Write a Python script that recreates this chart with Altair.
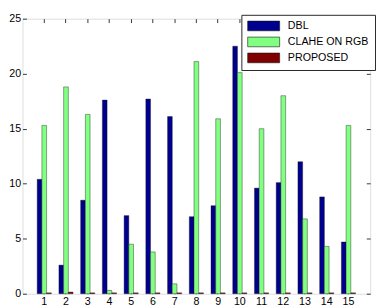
import altair as alt
import pandas as pd

images = [str(i) for i in range(1, 16)]
series = ["DBL", "CLAHE ON RGB", "PROPOSED"]
colors = ["#00008F", "#80FF80", "#800000"]
dbl = [10.4, 2.6, 8.5, 17.6, 7.1, 17.7, 16.1, 7.0, 8.0, 22.5, 9.6, 10.1, 12.0, 8.8, 4.7]
clahe = [15.3, 18.8, 16.3, 0.3, 4.5, 3.8, 0.9, 21.1, 15.9, 20.1, 15.0, 18.0, 6.8, 4.3, 15.3]
proposed = [0.08, 0.15, 0.08, 0.08, 0.08, 0.08, 0.08, 0.08, 0.08, 0.08, 0.08, 0.08, 0.08, 0.08, 0.08]
y_ticks = [0, 5, 10, 15, 20, 25]

rows = []
for vals, s in zip([dbl, clahe, proposed], series):
    for img, v in zip(images, vals):
        rows.append({"img": img, "series": s, "value": v})
df = pd.DataFrame(rows)

FONT = "Liberation Sans"
x_scale = alt.Scale(paddingInner=0.35, paddingOuter=0.675)
y_scale = alt.Scale(domain=[0, 25], nice=False)
xoff = alt.XOffset("series:N", sort=series, scale=alt.Scale(paddingInner=0, paddingOuter=0))
color = alt.Color(
    "series:N", sort=series, scale=alt.Scale(domain=series, range=colors),
    legend=alt.Legend(
        title=None, orient="none", legendX=226, legendY=-4,
        strokeColor="#222", fillColor="white", padding=6,
        symbolType="M -1,-1 H 5.6 V 1 H -1 Z", symbolSize=100,
        symbolStrokeColor="#111", symbolStrokeWidth=0.6, symbolOpacity=1,
        labelOffset=31, rowPadding=3.5, labelFont=FONT, labelFontSize=11,
        labelColor="black",
    ),
)

bars = alt.Chart(df).mark_bar(stroke="#111", strokeWidth=0.4).encode(
    x=alt.X("img:N", sort=images, scale=x_scale, title=None,
            axis=alt.Axis(orient="bottom", labelAngle=0, domain=False, tickSize=4,
                          offset=-4, labelPadding=2, tickColor="#333",
                          labelFont=FONT, labelFontSize=11, labelColor="black")),
    xOffset=xoff,
    y=alt.Y("value:Q", scale=y_scale, title=None,
            axis=alt.Axis(orient="left", values=y_ticks, domain=False, grid=False,
                          tickSize=4, offset=-4, labelPadding=2, tickColor="#333",
                          labelFont=FONT, labelFontSize=11, labelColor="black")),
    color=color,
)

ghost = alt.Chart(df).mark_bar(opacity=0).encode(
    x=alt.X("img:N", sort=images, scale=x_scale, title=None,
            axis=alt.Axis(orient="top", labels=False, domain=False, tickSize=4,
                          offset=-4, tickColor="#333")),
    xOffset=xoff,
    y=alt.Y("value:Q", scale=y_scale, title=None,
            axis=alt.Axis(orient="right", values=y_ticks, labels=False, domain=False,
                          grid=False, tickSize=4, offset=-4, tickColor="#333")),
)

chart = alt.layer(bars, ghost).resolve_axis(x="independent", y="independent").properties(
    width=359, height=284
).configure_view(stroke="#444", strokeWidth=1).configure(
    padding={"left": 0, "top": 0, "right": 0, "bottom": 6}, background="white"
)

chart.save("out.html", embed_options={"renderer": "svg", "actions": False})
